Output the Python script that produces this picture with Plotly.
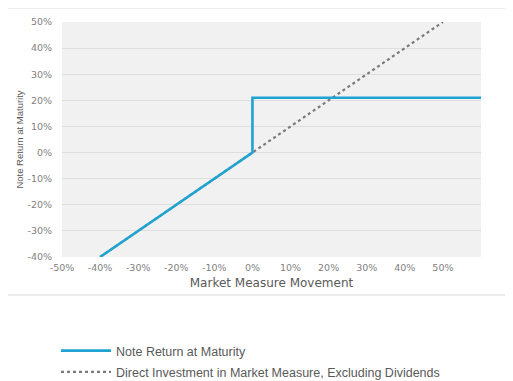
import plotly.graph_objects as go

# Data (percent)
note_x = [-40, 0, 0, 60]
note_y = [-40, 0, 21, 21]
direct_x = [-40, 50]
direct_y = [-40, 50]
x_ticks = [-50, -40, -30, -20, -10, 0, 10, 20, 30, 40, 50]
y_ticks = [-40, -30, -20, -10, 0, 10, 20, 30, 40, 50]
x_tick_labels = [f"{v}%" for v in x_ticks]
y_tick_labels = [f"{v}%" for v in y_ticks]

# page body has an 8px margin, so the figure is drawn 8px in from the corner
OFF = 8
W, H = 513 - OFF, 381 - OFF
L, R, T, B = 62 - OFF, 513 - 481, 22 - OFF, 381 - 257
pw, ph = W - L - R, H - T - B

def px_x(p):  # screen px -> paper fraction
    return (p - 62) / pw

def px_y(p):
    return (257 - p) / ph

fig = go.Figure()
fig.add_trace(go.Scatter(
    x=direct_x, y=direct_y, mode="lines", legendgroup="b", legendrank=2,
    name="Direct Investment in Market Measure, Excluding Dividends",
    line=dict(color="#7a7a7a", width=2.2, dash="dot"),
))
fig.add_trace(go.Scatter(
    x=note_x, y=note_y, mode="lines", legendgroup="a", legendrank=1,
    name="Note Return at Maturity",
    line=dict(color="#1fa3d1", width=2.6),
))

tick_font = dict(family="DejaVu Sans", size=9.5, color="#7f7f7f")

fig.update_layout(
    width=W, height=H,
    margin=dict(l=L, r=R, t=T, b=B, pad=0, autoexpand=False),
    paper_bgcolor="white",
    plot_bgcolor="#f1f1f1",
    showlegend=True,
    legend=dict(
        x=px_x(56), y=px_y(336), xanchor="left", yanchor="top",
        traceorder="grouped",
        font=dict(family="Liberation Sans Narrow, Arial Narrow, sans-serif", size=12.5, color="#595959"),
        bgcolor="rgba(0,0,0,0)", itemwidth=50, tracegroupgap=2,
    ),
    xaxis=dict(
        range=[-50, 60], tickmode="array", tickvals=x_ticks, ticktext=x_tick_labels,
        showgrid=False, zeroline=False, showline=False, ticks="",
        tickfont=tick_font, ticklabelstandoff=3,
        title=dict(text="Market Measure Movement", standoff=7,
                   font=dict(family="DejaVu Sans", size=12, color="#595959")),
    ),
    yaxis=dict(
        range=[-40, 50], tickmode="array", tickvals=y_ticks, ticktext=y_tick_labels,
        showgrid=True, gridcolor="#dedede", gridwidth=1,
        zeroline=False, showline=False, ticks="",
        tickfont=tick_font, ticklabelstandoff=9,
        title=dict(text="Note Return at Maturity", standoff=2,
                   font=dict(family="Liberation Sans Narrow, Arial Narrow, sans-serif", size=9.5, color="#595959")),
    ),
    shapes=[dict(
        type="rect", xref="paper", yref="paper",
        x0=px_x(7), x1=px_x(507), y0=px_y(295), y1=px_y(8),
        line=dict(color="#d9d9d9", width=1), fillcolor="rgba(0,0,0,0)", layer="below",
    )],
)

fig.write_html("out.html")
